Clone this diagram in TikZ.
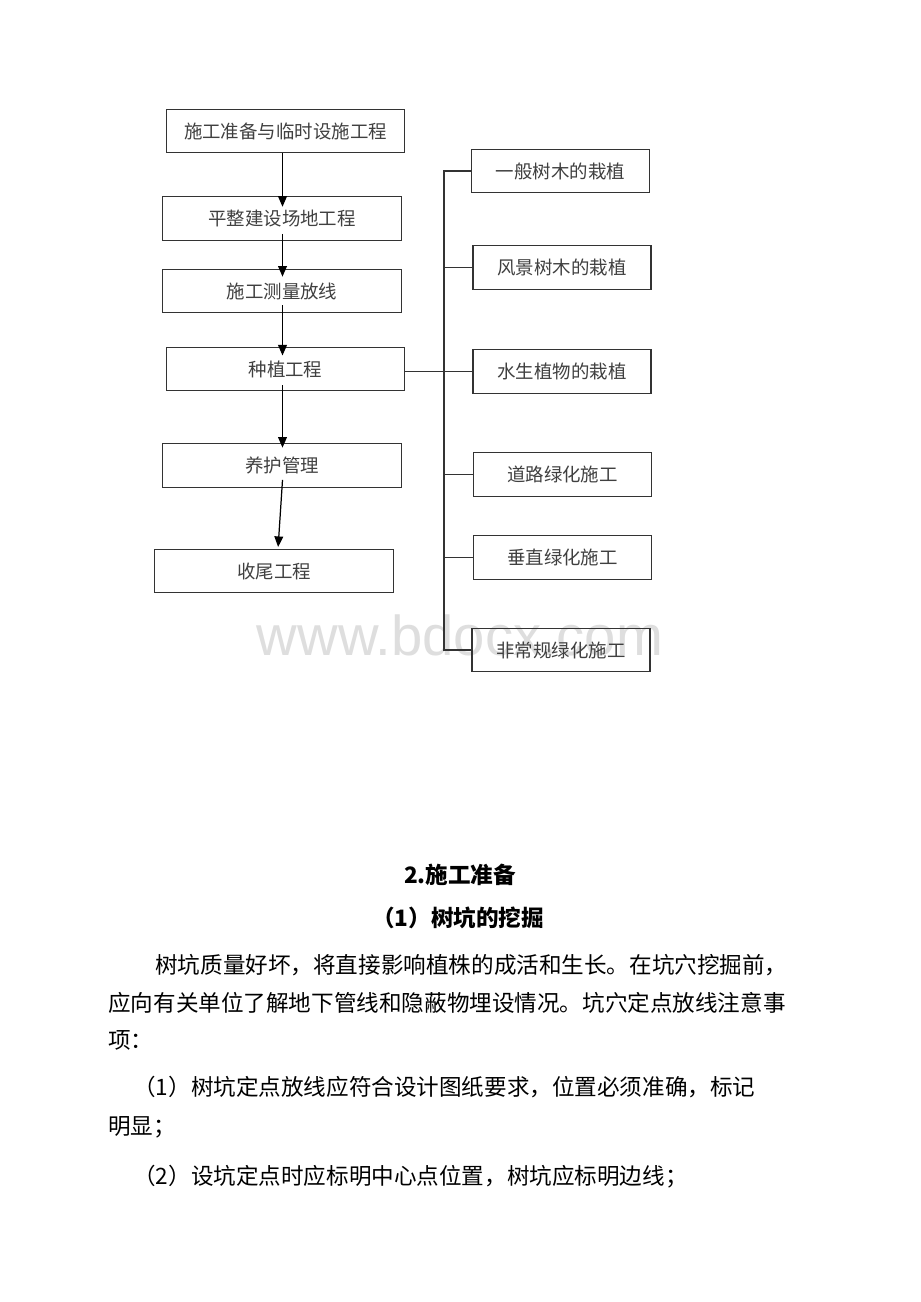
\documentclass[tikz,border=0pt]{standalone}
\usepackage{fontspec}
\setmainfont{Noto Sans CJK SC}
\newfontfamily\wmfont{Liberation Sans}
\usetikzlibrary{arrows.meta}

\begin{document}
\begin{tikzpicture}[x=0.02cm,y=-0.02cm,
  box/.style={draw=black!80,line width=0.6pt,minimum width=4.77cm,minimum height=0.87cm,
    inner sep=0pt,text=black!75,font=\fontsize{10.5pt}{12pt}\selectfont},
  sub/.style={box,minimum width=3.56cm},
  arr/.style={-{Triangle[length=6pt,width=5pt]},line width=0.7pt},
  link/.style={draw=black!80,line width=0.6pt},
  body/.style={anchor=west,inner sep=0pt,font=\fontsize{12.85pt}{15pt}\selectfont},
  head/.style={inner sep=0pt,font=\fontsize{12.85pt}{15pt}\selectfont\bfseries}]
  \fill[white] (0,0) rectangle (920,1302);
  \useasboundingbox (0,0) rectangle (920,1302);
  \node[text=black!13,font=\wmfont\fontsize{32pt}{36pt}\selectfont] (wm) at (460,635) {www.bdocx.com};

  \node[box] (b1) at (285.5,131) {施工准备与临时设施工程};
  \node[box] (b2) at (282,218.5) {平整建设场地工程};
  \node[box] (b3) at (282,291) {施工测量放线};
  \node[box] (b4) at (285.5,369) {种植工程};
  \node[box] (b5) at (282,465.5) {养护管理};
  \node[box] (b6) at (274,571) {收尾工程};

  \node[sub] (r1) at (560.5,171) {一般树木的栽植};
  \node[sub] (r2) at (562,267.5) {风景树木的栽植};
  \node[sub] (r3) at (562,371.5) {水生植物的栽植};
  \node[sub] (r4) at (562.5,474.5) {道路绿化施工};
  \node[sub] (r5) at (562.5,557.5) {垂直绿化施工};
  \node[sub] (r6) at (561,650) {非常规绿化施工};

  \coordinate (ax) at (282.5,0);
  \coordinate (ay) at (278,0);
  \path[arr]
    (b1.south -| ax) edge[shorten >=-6pt] (b2.north -| ax)
    (b2.south -| ax) edge[shorten <=-4pt,shorten >=-4.5pt] (b3.north -| ax)
    (b3.south -| ax) edge[shorten <=-4.5pt,shorten >=-5pt] (b4.north -| ax)
    (b4.south -| ax) edge[shorten <=-3.5pt,shorten >=-2.5pt] (b5.north -| ax)
    (b5.south -| b5) edge[shorten <=-4.5pt,shorten >=1pt] (b6.north -| ay);

  \coordinate (tk) at (444,0);
  \draw[link] (r1.west) -- (r1.west -| tk) -- (r6.west -| tk) -- (r6.west);
  \foreach \r in {r2,r3,r4,r5}
    \draw[link] (\r.west) -- (\r.west -| tk);
  \draw[link] (r3.west -| b4.east) -- (r3.west);

  \node[head] (h1) at (460,875) {2.施工准备};
  \node[head] (h2) at (458,918) {（1）树坑的挖掘};
  \node[body] (p1) at (155,965) {树坑质量好坏，将直接影响植株的成活和生长。在坑穴挖掘前，};
  \node[body] (p2) at (108,1003) {应向有关单位了解地下管线和隐蔽物埋设情况。坑穴定点放线注意事};
  \node[body] (p3) at (108,1040) {项：};
  \node[body] (p4) at (133,1087) {（1）树坑定点放线应符合设计图纸要求，位置必须准确，标记};
  \node[body] (p5) at (108,1127) {明显；};
  \node[body] (p6) at (133,1177) {（2）设坑定点时应标明中心点位置，树坑应标明边线；};
\end{tikzpicture}
\end{document}
